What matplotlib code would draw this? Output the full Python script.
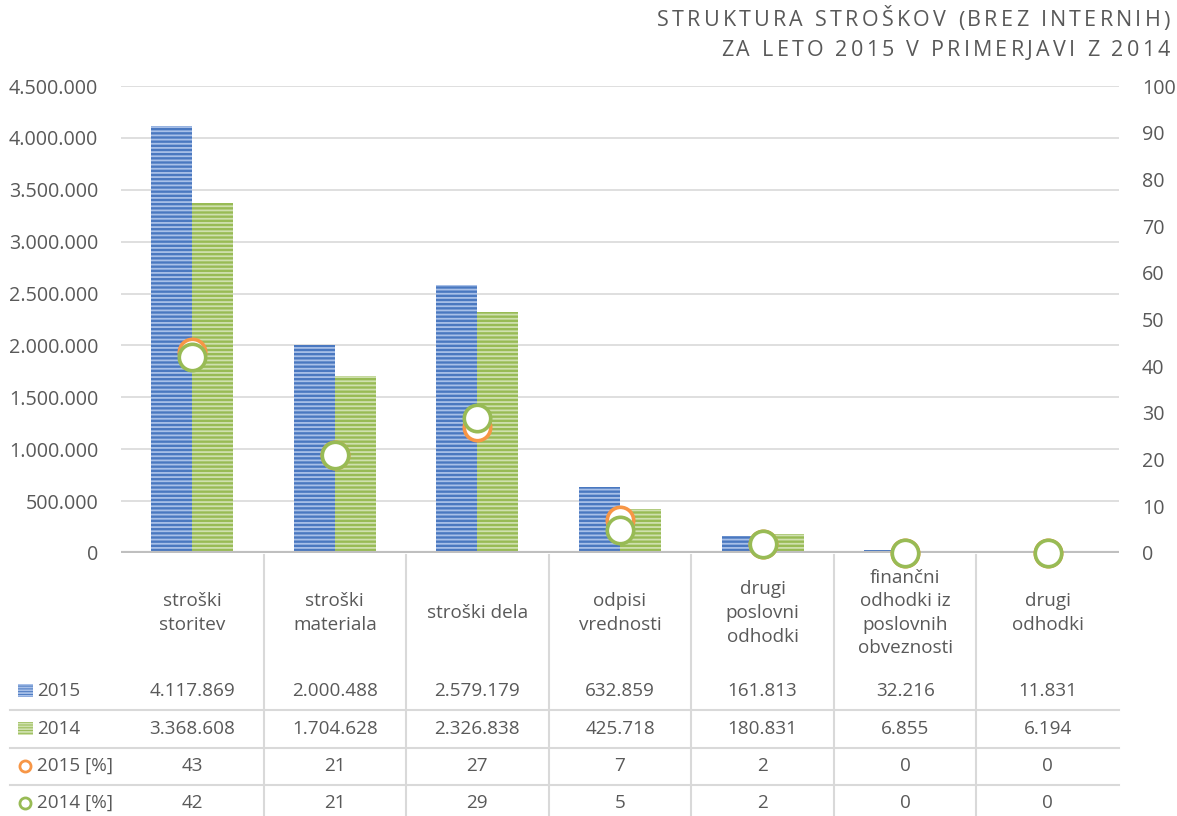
import numpy as np
import matplotlib
matplotlib.use("Agg")
import matplotlib.pyplot as plt
from matplotlib.patches import Rectangle
from matplotlib.ticker import FuncFormatter

plt.rcParams['font.family'] = ['Open Sans', 'DejaVu Sans']
plt.rcParams['hatch.linewidth'] = 1.3

# data
categories = ['stroški\nstoritev', 'stroški\nmateriala', 'stroški dela', 'odpisi\nvrednosti',
              'drugi\nposlovni\nodhodki', 'finančni\nodhodki iz\nposlovnih\nobveznosti',
              'drugi\nodhodki']
val_2015 = [4117869, 2000488, 2579179, 632859, 161813, 32216, 11831]
val_2014 = [3368608, 1704628, 2326838, 425718, 180831, 6855, 6194]
pct_2015 = [43, 21, 27, 7, 2, 0, 0]
pct_2014 = [42, 21, 29, 5, 2, 0, 0]
row_labels = ['2015', '2014', '2015 [%]', '2014 [%]']

TXT = '#595959'
GRID = '#d9d9d9'
BLUE, BLUE_L = '#4a78c0', '#a8c0e8'
GREEN, GREEN_L = '#98bb55', '#cfe0ae'
ORANGE = '#f79646'
FS = 13.6
TICK_FS = 14.2

W, H = 1177, 816
fig = plt.figure(figsize=(W / 100, H / 100), dpi=100)

x_left, x_right = 121, 1119
y_zero, y_top = 553, 86
ax = fig.add_axes([x_left / W, 1 - y_zero / H, (x_right - x_left) / W, (y_zero - y_top) / H])
n = len(categories)
x = np.arange(n)
ax.set_xlim(-0.5, n - 0.5)
ax.set_ylim(0, 4500000)
ax.set_yticks(np.arange(0, 4500001, 500000))
ax.yaxis.set_major_formatter(FuncFormatter(lambda v, p: f'{int(v):,}'.replace(',', '.')))
ax.grid(axis='y', color=GRID, lw=1.2)
ax.set_axisbelow(True)
for s in ax.spines.values():
    s.set_visible(False)
ax.set_xticks([])
ax.tick_params(axis='y', length=0, pad=16.5, labelsize=TICK_FS, labelcolor=TXT)

bw = 0.288
ax.bar(x - bw / 2, val_2015, bw, color=BLUE, edgecolor=BLUE_L, lw=0, hatch='----', zorder=2)
ax.bar(x + bw / 2, val_2014, bw, color=GREEN, edgecolor=GREEN_L, lw=0, hatch='----', zorder=2)
ax.axhline(0, color='#bfbfbf', lw=3, zorder=3)

ax2 = ax.twinx()
ax2.set_ylim(0, 100)
ax2.set_yticks(np.arange(0, 101, 10))
for s in ax2.spines.values():
    s.set_visible(False)
ax2.tick_params(axis='y', length=0, pad=16.5, labelsize=TICK_FS, labelcolor=TXT)
ax2.plot(x, pct_2015, 'o', ms=19, mfc='white', mec=ORANGE, mew=2.6, zorder=4, clip_on=False)
ax2.plot(x, pct_2014, 'o', ms=19, mfc='white', mec=GREEN, mew=2.6, zorder=5, clip_on=False)

# data table under the plot, y in image pixels
tab = fig.add_axes([x_left / W, 0, (x_right - x_left) / W, (H - y_zero) / H])
tab.set_xlim(-0.5, n - 0.5)
tab.set_ylim(H, y_zero)
tab.axis('off')
cw = (x_right - x_left) / n


def px2x(px):
    return -0.5 + (px - x_left) / cw


for i in range(1, n):
    tab.plot([i - 0.5, i - 0.5], [y_zero + 2, H], color=GRID, lw=1.5, clip_on=False)
for yy in [710, 748, 785]:
    tab.plot([px2x(10), n - 0.5], [yy, yy], color=GRID, lw=1.5, clip_on=False)

for i, c in enumerate(categories):
    tab.text(i, 613, c, ha='center', va='center', fontsize=FS, color=TXT, linespacing=1.4)

row_y = [691, 729, 766, 803]
rows = [val_2015, val_2014, pct_2015, pct_2014]
for r, (yy, vals) in enumerate(zip(row_y, rows)):
    for i, v in enumerate(vals):
        tab.text(i, yy, f'{v:,}'.replace(',', '.'), ha='center', va='center', fontsize=FS, color=TXT)
    tab.text(px2x(37), yy, row_labels[r], ha='left', va='center', fontsize=FS, color=TXT, clip_on=False)

# legend keys
for yy, fc, ec in [(row_y[0], BLUE, BLUE_L), (row_y[1], GREEN, GREEN_L)]:
    tab.add_patch(Rectangle((px2x(18), yy + 6), 15 / cw, -13, facecolor=fc, edgecolor=ec, lw=0,
                            hatch='------', clip_on=False))
for yy, ec in [(row_y[2], ORANGE), (row_y[3], GREEN)]:
    tab.plot([px2x(25)], [yy], 'o', ms=8, mfc='white', mec=ec, mew=2, clip_on=False)

# title with letter spacing, placed one character at a time
title_lines = ['STRUKTURA STROŠKOV (BREZ INTERNIH)', 'ZA LETO 2015 V PRIMERJAVI Z 2014']
TITLE_FS = 15.5
renderer = fig.canvas.get_renderer()


def char_width(ch):
    t1 = fig.text(0, 0, 'I' + ch + 'I', fontsize=TITLE_FS)
    t2 = fig.text(0, 0, 'II', fontsize=TITLE_FS)
    w = t1.get_window_extent(renderer).width - t2.get_window_extent(renderer).width
    t1.remove()
    t2.remove()
    return w


widths = [[char_width(ch) for ch in line] for line in title_lines]
track = (1170 - 657 - sum(widths[0])) / (len(title_lines[0]) - 1)
for k, line in enumerate(title_lines):
    total = sum(widths[k]) + track * (len(line) - 1)
    xpos = 1170 - total
    for ch, w in zip(line, widths[k]):
        fig.text(xpos / W, 1 - (21 + 30 * k) / H, ch, ha='left', va='center',
                 fontsize=TITLE_FS, color=TXT)
        xpos += w + track

fig.savefig('out.png', dpi=100)
